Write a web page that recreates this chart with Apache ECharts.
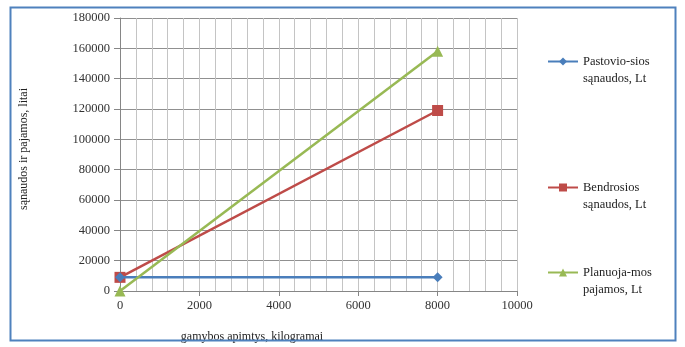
<!DOCTYPE html>
<html>
<head>
<meta charset="utf-8">
<script src="https://cdn.jsdelivr.net/npm/echarts@6/dist/echarts.min.js"></script>
<style>
html,body{margin:0;padding:0;background:#fff;}
#chart{width:685px;height:347px;}
</style>
</head>
<body>
<div id="chart"></div>
<script>
var kiekis = [0, 8000];
var pastoviosSanaudos = [9000, 9000];
var bendrosiosSanaudos = [9000, 119000];
var planuojamosPajamos = [0, 158000];
var seriesNames = ['Pastovio-sios\nsąnaudos, Lt', 'Bendrosios\nsąnaudos, Lt', 'Planuoja-mos\npajamos, Lt'];
var yTitle = 'sąnaudos ir pajamos, litai';
var xTitle = 'gamybos apimtys, kilogramai';

function pairs(vals){ return kiekis.map(function(x,i){ return [x, vals[i]]; }); }

var FONT = '"Liberation Serif", "DejaVu Serif", serif';
var colors = ['#4a7ebb', '#be4b48', '#98b954'];

function legendAt(name, top){
  return {
    data: [name], left: 547, top: top, orient: 'vertical', padding: 0,
    itemWidth: 30, itemHeight: 10, itemGap: 0,
    formatter: function(n){ return '\n' + n; },
    textStyle: { fontFamily: FONT, fontSize: 12.5, color: '#222', lineHeight: 17 }
  };
}

var chart = echarts.init(document.getElementById('chart'), null, {renderer: 'canvas'});
chart.setOption({
  backgroundColor: '#fff',
  animation: false,
  color: colors,
  grid: { left: 120, right: 168, top: 18, bottom: 56, containLabel: false },
  legend: [ legendAt(seriesNames[0], 36), legendAt(seriesNames[1], 162), legendAt(seriesNames[2], 247) ],
  xAxis: {
    type: 'value', min: 0, max: 10000, interval: 2000,
    axisLine: { show: true, lineStyle: { color: '#868686', width: 1 } },
    axisTick: { show: true, length: 5, lineStyle: { color: '#868686' } },
    minorTick: { show: false, splitNumber: 5 },
    splitLine: { show: true, lineStyle: { color: '#c4c4c4', width: 1 } },
    minorSplitLine: { show: true, lineStyle: { color: '#c4c4c4', width: 1 } },
    axisLabel: { fontFamily: FONT, fontSize: 12.5, color: '#333', margin: 8, formatter: function(v){ return String(v); } }
  },
  yAxis: {
    type: 'value', min: 0, max: 180000, interval: 20000,
    axisLine: { show: true, lineStyle: { color: '#868686', width: 1 } },
    axisTick: { show: true, length: 6, lineStyle: { color: '#868686' } },
    splitLine: { show: true, lineStyle: { color: '#909090', width: 1 } },
    axisLabel: { fontFamily: FONT, fontSize: 12.5, color: '#333', margin: 10, formatter: function(v){ return String(v); } }
  },
  graphic: [
    { type: 'rect', shape: { x: 10.5, y: 7.5, width: 665, height: 333 }, style: { fill: 'none', stroke: '#4f81bd', lineWidth: 2 }, silent: true, z: 100 },
    { type: 'text', x: 24, y: 149, rotation: Math.PI/2, style: { text: yTitle, font: '12px ' + FONT, fill: '#222', textAlign: 'center', textVerticalAlign: 'middle' } },
    { type: 'text', x: 252, y: 337, style: { text: xTitle, font: '12px ' + FONT, fill: '#222', textAlign: 'center', textVerticalAlign: 'middle' } }
  ],
  series: [
    { name: seriesNames[0], type: 'line', data: pairs(pastoviosSanaudos), symbol: 'diamond', symbolSize: 10, lineStyle: { width: 2.5 }, z: 3 },
    { name: seriesNames[1], type: 'line', data: pairs(bendrosiosSanaudos), symbol: 'rect', symbolSize: 11, lineStyle: { width: 2.5 }, z: 2 },
    { name: seriesNames[2], type: 'line', data: pairs(planuojamosPajamos), symbol: 'triangle', symbolSize: 11, lineStyle: { width: 2.5 }, z: 4 }
  ]
});
</script>
</body>
</html>
